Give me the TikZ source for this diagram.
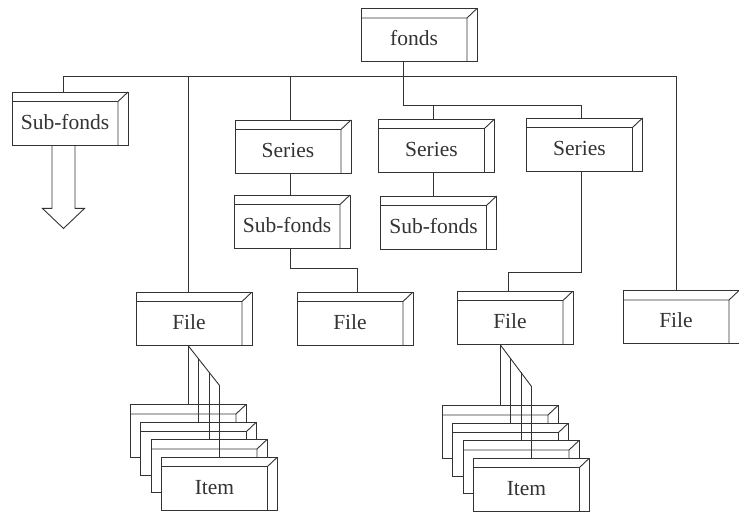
\documentclass[tikz,border=0pt]{standalone}
\usepackage{fontspec}
\setmainfont{Liberation Serif}
\usetikzlibrary{calc}

\tikzset{
  cabinet/.style={draw, fill=white, minimum width=116pt, minimum height=53pt,
    inner sep=0pt, text height=24pt, text depth=2.4pt,
    execute at end node={\kern10pt},
    path picture={
      \draw[line width=0.9pt] ([yshift=-9.5pt]path picture bounding box.north west)
        -- ([xshift=-10pt,yshift=-9.5pt]path picture bounding box.north east)
        -- (path picture bounding box.north east)
        ([xshift=-10pt,yshift=-9.5pt]path picture bounding box.north east)
        -- ([xshift=-10pt]path picture bounding box.south east);
    }},
}

\begin{document}
\begin{tikzpicture}[x=1pt,y=-1pt,line width=0.9pt,color=black!80,
    font=\fontsize{21.5}{21.5}\selectfont]
    \useasboundingbox (0,0) rectangle (739,513);

    \node[cabinet] (fonds) at (419,35) {fonds};
    \node[cabinet] (sub1) at (70,118.5) {Sub-fonds};
    \node[cabinet] (ser1) at (293,146.5) {Series};
    \node[cabinet] (ser2) at (436.5,145.5) {Series};
    \node[cabinet] (ser3) at (584.5,144.5) {Series};
    \node[cabinet] (sub2) at (292,221.5) {Sub-fonds};
    \node[cabinet] (sub3) at (438.5,222.5) {Sub-fonds};
    \node[cabinet] (file1) at (194,318.5) {File};
    \node[cabinet] (file2) at (355,318.5) {File};
    \node[cabinet] (file3) at (515,317.5) {File};
    \node[cabinet] (file4) at (681,317) {File};

    % item stacks
    \foreach \i in {0,1,2}
        \node[cabinet] (itemA\i) at ({188+10.5*\i},{431+17.5*\i}) {};
    \node[cabinet] (itemA3) at (219.5,483.5) {Item};
    \foreach \i in {0,1,2}
        \node[cabinet] (itemB\i) at ({500+10.5*\i},{432+17.5*\i}) {};
    \node[cabinet] (itemB3) at (531.5,484.5) {Item};

    \coordinate (bar) at (0,76);
    \coordinate (bar2) at (0,105);
    \coordinate (fonds-b) at ([xshift=-16pt]fonds.south);
    \coordinate (sub1-t) at ([xshift=-7pt]sub1.north);
    \coordinate (file1-t) at ([xshift=-6pt]file1.north);
    \coordinate (ser1-t) at ([xshift=-3pt]ser1.north);
    \coordinate (ser2-t) at ([xshift=-3.5pt]ser2.north);
    \coordinate (ser3-t) at ([xshift=-3.5pt]ser3.north);
    \coordinate (file4-t) at ([xshift=-5pt]file4.north);

    \draw (fonds-b) -- (fonds-b |- bar2) -| (ser3-t);
    \draw (fonds-b |- bar2) -| (ser2-t);
    \draw (sub1-t) |- (file4-t |- bar) -- (file4-t);
    \draw (file1-t) -- (file1-t |- bar);
    \draw (ser1-t) -- (ser1-t |- bar);
    \draw ([xshift=-3pt]ser1.south) -- ([xshift=-2pt]sub2.north);
    \draw ([xshift=-3.5pt]ser2.south) -- ([xshift=-5.5pt]sub3.north);
    \draw ([xshift=-2pt]sub2.south) -- ++(0,20) -| ([xshift=2pt]file2.north);
    \draw ([xshift=-3.5pt]ser3.south) -- ++(0,101) -| ([xshift=-7pt]file3.north);

    % hollow arrow
    \draw ([xshift=-18pt]sub1.south) -- ++(0,63) -- ++(-9.5,0) -- ++(21,20)
        -- ++(21,-20) -- ++(-9.5,0) -- ++(0,-63);

    % file to items
    \coordinate (dA) at (itemA0.north |- file1.south);
    \coordinate (dB) at (itemB0.north |- file3.south);
    \draw (dA) -- ++(31.5,40);
    \draw (dB) -- ++(31.5,42);
    \foreach \i in {0,...,3} {
        \draw let \p1=(dA), \p2=(itemA\i.north) in
            (\x2,{\y1-(\x2-\x1)*40/31.5}) -- (itemA\i.north);
        \draw let \p1=(dB), \p2=(itemB\i.north) in
            (\x2,{\y1-(\x2-\x1)*42/31.5}) -- (itemB\i.north);
    }
\end{tikzpicture}
\end{document}
